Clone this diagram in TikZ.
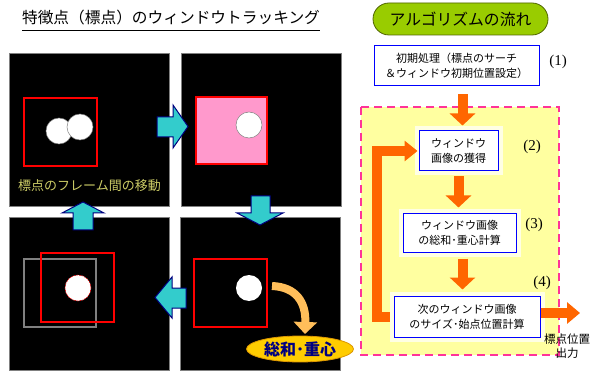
\documentclass[tikz,border=0pt]{standalone}
\usepackage{fontspec}
\setmainfont{Liberation Serif}
\newfontfamily\jp{Noto Sans CJK JP}
\usetikzlibrary{arrows.meta,shapes.geometric}
\definecolor{cyanA}{RGB}{51,204,204}
\definecolor{navyA}{RGB}{0,0,128}
\definecolor{orangeA}{RGB}{255,102,0}
\definecolor{lorange}{RGB}{255,190,90}
\definecolor{pinkA}{RGB}{255,153,204}
\definecolor{pinkD}{RGB}{255,51,153}
\definecolor{yelA}{RGB}{255,255,160}
\definecolor{haloA}{RGB}{255,255,228}
\definecolor{greenA}{RGB}{153,204,0}
\definecolor{greenD}{RGB}{80,100,0}
\definecolor{goldA}{RGB}{255,204,0}
\definecolor{goldD}{RGB}{220,150,0}
\definecolor{txtY}{RGB}{204,204,102}
\definecolor{blueA}{RGB}{0,0,255}
\definecolor{grayA}{RGB}{128,128,128}
\begin{document}
\begin{tikzpicture}[x=1pt,y=-1pt,
  panel/.style={draw=grayA,line width=0.6pt,fill=black,minimum width=160pt,minimum height=153pt,inner sep=0pt},
  blk/.style={draw=navyA,line width=1pt,fill=cyanA,line join=miter},
  wcirc/.style={circle,fill=white,draw=grayA,line width=0.5pt,minimum size=26pt,inner sep=0pt},
  redbox/.style={draw=red,line width=1.6pt,inner sep=0pt},
  flowbox/.style={draw=blueA,line width=1pt,fill=white,inner sep=0pt,align=center,
     font=\jp\fontsize{11}{15}\selectfont},
  halo/.style={preaction={draw=haloA,line width=9pt}},
  flow/.style={draw=orangeA,line width=10pt,-{Triangle[width=25pt,length=12pt]}},
  lbl/.style={font=\fontsize{15}{17}\selectfont,inner sep=0pt}
]
\useasboundingbox (0,0) rectangle (599,371);
\fill[white] (0,0) rectangle (599,371);

% title
\node[font=\jp\fontsize{15.7}{18}\selectfont,inner sep=0pt] (title) at (171,18) {特徴点（標点）のウィンドウトラッキング};
\draw[line width=0.9pt] (22,30) -- (320,30);

% panels
\node[panel] (p1) at (89,129.5) {};
\node[panel] (p2) at (261,129.5) {};
\node[panel] (p3) at (89,293.5) {};
\node[panel] (p4) at (260,293.5) {};

% panel 1
\node[redbox,minimum width=73pt,minimum height=68pt] (r1) at (60.5,132) {};
\node[wcirc] (c1a) at (59,131) {};
\node[wcirc] (c1b) at (80,127) {};
\node[font=\jp\fontsize{13}{15}\selectfont,text=txtY,inner sep=0pt] (mv) at (89.5,186) {標点のフレーム間の移動};

% panel 2
\node[redbox,fill=pinkA,minimum width=71pt,minimum height=67pt] (r2) at (231.5,130.5) {};
\node[wcirc] (c2) at (249,125) {};

% panel 3 (bottom left)
\node[draw=grayA,line width=1.6pt,minimum width=72pt,minimum height=68pt,inner sep=0pt] (g3) at (60,293) {};
\node[redbox,minimum width=73pt,minimum height=69pt] (r3) at (77.5,287.5) {};
\node[wcirc,draw=red,dashed,dash pattern=on 1.5pt off 1pt] (c3) at (78,288) {};

% panel 4 (bottom right)
\node[redbox,minimum width=73pt,minimum height=68pt] (r4) at (230.5,293) {};
\node[wcirc,draw=none] (c4) at (249,288) {};

% cyan block arrows
\draw[blk] (157,117) -- (173,117) -- (173,105) -- (188,126.5) -- (173,148) -- (173,137) -- (157,137) -- cycle;
\draw[blk] (251,196) -- (270,196) -- (270,213) -- (283,213) -- (260,225) -- (237,213) -- (251,213) -- cycle;
\draw[blk] (186,288) -- (172,288) -- (172,277) -- (155,297.5) -- (172,318) -- (172,308) -- (186,308) -- cycle;
\draw[blk] (73,230) -- (73,213) -- (62,213) -- (83,202) -- (104,213) -- (93,213) -- (93,230) -- cycle;

% curved orange arrow and ellipse
\coordinate (cs) at (272,286);
\coordinate (ce) at (305,334);
\draw[lorange,line width=8pt,-{Triangle[width=23pt,length=12pt]}] (cs) .. controls (296,287) and (306,302) .. (ce);
\node[ellipse,fill=goldA,draw=goldD,line width=0.8pt,minimum width=107pt,minimum height=26pt,inner sep=0pt,
  font=\jp\bfseries\fontsize{16}{18}\selectfont,text=navyA] (sum) at (300,349) {総和･重心};

% right side
\node[draw=greenD,line width=0.8pt,fill=greenA,rounded corners=16pt,minimum width=175pt,minimum height=32pt,inner sep=0pt,
  font=\jp\fontsize{15.8}{18}\selectfont] (algo) at (460.5,19) {アルゴリズムの流れ};

\node[flowbox,minimum width=165pt,minimum height=40pt] (b1) at (456.5,66) {初期処理（標点のサーチ\\＆ウィンドウ初期位置設定）};
\node[lbl] (l1) at (558,62) {(1)};

\draw[pinkD,line width=2.2pt,dash pattern=on 8pt off 5pt,fill=yelA] (361,107) rectangle (559,355);

\node[flowbox,halo,minimum width=79pt,minimum height=40pt] (b2) at (458.5,151) {ウィンドウ\\画像の獲得};
\node[lbl] (l2) at (532,147) {(2)};
\node[flowbox,halo,minimum width=113pt,minimum height=38pt] (b3) at (459.5,233) {ウィンドウ画像\\の総和･重心計算};
\node[lbl] (l3) at (534,225) {(3)};
\node[flowbox,halo,minimum width=146pt,minimum height=41pt] (b4) at (467,316.5) {次のウィンドウ画像\\のサイズ･始点位置計算};
\node[lbl] (l4) at (542,283) {(4)};

% flow arrows
\draw[flow,shorten <=8pt,shorten >=5pt] ([xshift=4pt]b2.north |- b1.south) -- ([xshift=4pt]b2.north);
\draw[flow,shorten <=5pt,shorten >=6pt] (b2.south) -- (b2.south |- b3.north);
\draw[flow,shorten <=6pt,shorten >=6pt] ([xshift=3pt]b3.south) -- ([xshift=3pt]b3.south |- b4.north);
\coordinate (fbx) at (377,0);
\draw[flow,-{Triangle[width=20pt,length=13pt]},shorten <=4pt,shorten >=1pt] (b4.west) -- (b4.west -| fbx) |- (b2.west);
\coordinate (outp) at (580,313);
\draw[flow,-{Triangle[width=21pt,length=13pt]}] (b4.east |- outp) -- (outp);
\node[font=\jp\fontsize{11.5}{14}\selectfont,align=center,inner sep=0pt] (outl) at (567,346) {標点位置\\出力};
\end{tikzpicture}
\end{document}
